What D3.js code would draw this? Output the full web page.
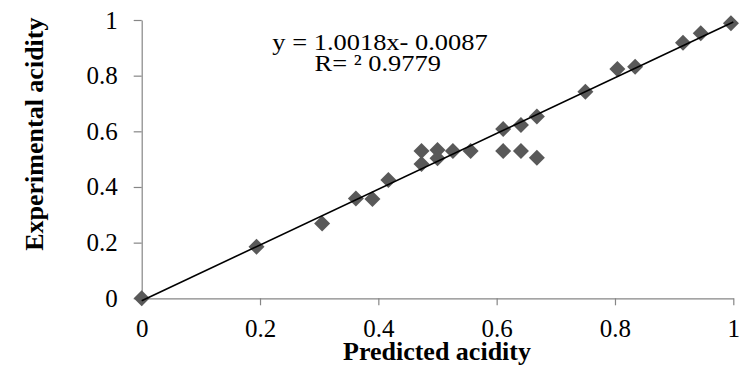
<!DOCTYPE html>
<html>
<head>
<meta charset="utf-8">
<script src="https://cdn.jsdelivr.net/npm/d3@7/dist/d3.min.js"></script>
<style>
  html, body { margin: 0; padding: 0; background: #fff; }
  svg { display: block; }
</style>
</head>
<body>
<svg id="chart" width="742" height="371"></svg>
<script>
// Predicted vs. experimental acidity (normalised)
const predicted = [0, 0.194, 0.305, 0.362, 0.390, 0.417, 0.473, 0.473, 0.500, 0.500,
  0.526, 0.556, 0.611, 0.611, 0.641, 0.641, 0.668, 0.668, 0.750, 0.804, 0.834,
  0.915, 0.945, 0.996];
const experimental = [0, 0.185, 0.269, 0.359, 0.357, 0.425, 0.529, 0.483, 0.533, 0.503,
  0.529, 0.529, 0.608, 0.529, 0.623, 0.529, 0.653, 0.505, 0.742, 0.824, 0.832,
  0.918, 0.952, 0.988];

// Linear fit reported on the chart
const slope = 1.0018;
const intercept = -0.0087;
const fitLabel = ["y = 1.0018x- 0.0087", "R= \u00B2 0.9779"];

const xTicks = [0, 0.2, 0.4, 0.6, 0.8, 1];
const yTicks = [0, 0.2, 0.4, 0.6, 0.8, 1];
const xTitle = "Predicted acidity";
const yTitle = "Experimental acidity";

const FONT = "Liberation Serif";
const svg = d3.select("#chart");
const plot = { left: 141.7, right: 733.3, top: 20, bottom: 298.3 };

const x = d3.scaleLinear().domain([0, 1]).range([plot.left, plot.right]);
const y = d3.scaleLinear().domain([0, 1]).range([plot.bottom, plot.top]);

const fmt = d => d === 0 || d === 1 ? String(d) : d.toFixed(1);
const axisColor = "#868686";

// X axis
const gx = svg.append("g").attr("transform", `translate(0,${plot.bottom})`)
  .call(d3.axisBottom(x).tickValues(xTicks).tickFormat(fmt).tickSizeInner(7).tickSizeOuter(0).tickPadding(14));
// Y axis
const gy = svg.append("g").attr("transform", `translate(${plot.left},0)`)
  .call(d3.axisLeft(y).tickValues(yTicks).tickFormat(fmt).tickSizeInner(8).tickSizeOuter(0).tickPadding(16));

[gx, gy].forEach(g => {
  g.attr("font-family", FONT).attr("font-size", 25);
  g.select(".domain").attr("stroke", axisColor).attr("stroke-width", 1.2);
  g.selectAll(".tick line").attr("stroke", axisColor).attr("stroke-width", 1.2);
  g.selectAll(".tick text").style("font-family", FONT).style("font-size", "25px").attr("fill", "#000");
});

// Markers
const r = 8;
const diamond = `M0,${-r}L${r},0L0,${r}L${-r},0Z`;
svg.append("g").selectAll("path")
  .data(predicted.map((p, i) => [p, experimental[i]]))
  .join("path")
  .attr("d", diamond)
  .attr("transform", d => `translate(${x(d[0])},${y(d[1])})`)
  .attr("fill", "#595959");

// Trendline drawn over the markers
svg.append("line")
  .attr("x1", x(0)).attr("y1", y(intercept))
  .attr("x2", x(1)).attr("y2", y(slope + intercept))
  .attr("stroke", "#000").attr("stroke-width", 1.6);

// Fit equation (slightly widened lettering)
const eq = svg.append("g").attr("transform", "translate(380,0) scale(1.15,1)");
eq.append("text").attr("x", 0).attr("y", 50).attr("text-anchor", "middle")
  .style("font-family", FONT).style("font-size", "23px").text(fitLabel[0]);
eq.append("text").attr("x", -2).attr("y", 71).attr("text-anchor", "middle")
  .style("font-family", FONT).style("font-size", "23px").text(fitLabel[1]);

// Axis titles
svg.append("text").attr("x", (plot.left + plot.right) / 2 - 0.5).attr("y", 360)
  .attr("text-anchor", "middle").style("font-family", FONT).style("font-size", "26px")
  .style("font-weight", "bold").text(xTitle);
svg.append("text").attr("transform", `translate(43,${(plot.top + plot.bottom) / 2 - 25}) rotate(-90)`)
  .attr("text-anchor", "middle").style("font-family", FONT).style("font-size", "26px")
  .style("font-weight", "bold").text(yTitle);
</script>
</body>
</html>
